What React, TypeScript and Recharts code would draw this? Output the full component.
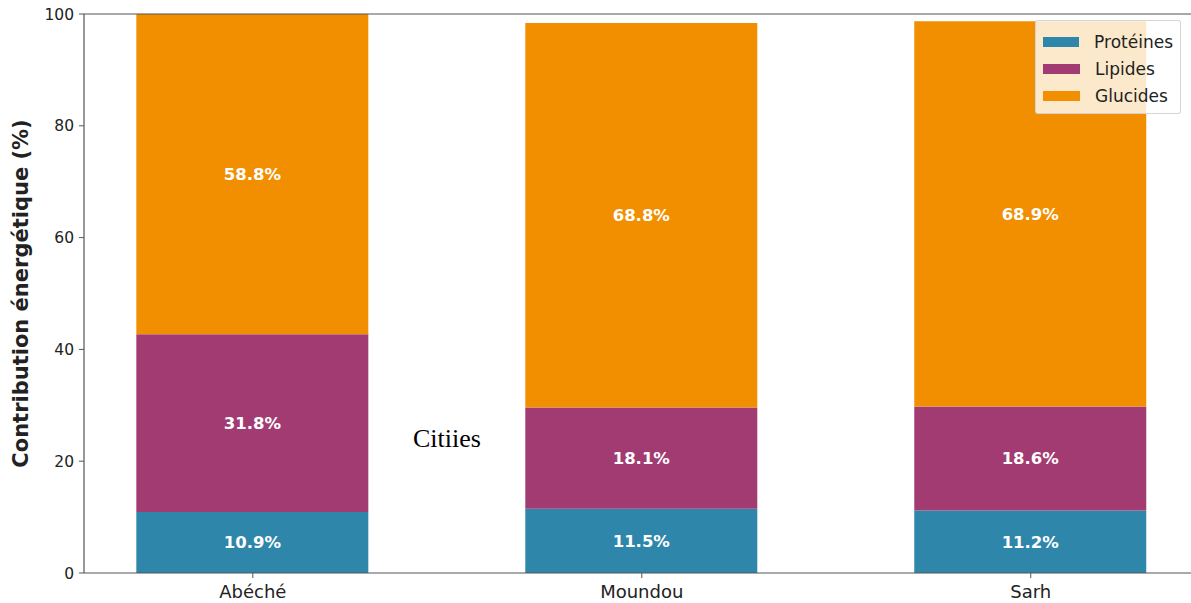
import React from 'react';
import { ComposedChart, Bar, XAxis, YAxis, ReferenceLine, LabelList } from 'recharts';

const cities = ['Abéché', 'Moundou', 'Sarh'];
const proteines = [10.9, 11.5, 11.2];
const lipides = [31.8, 18.1, 18.6];
const glucides = [58.8, 68.8, 68.9];
const yTicks = [0, 20, 40, 60, 80, 100];
const seriesNames = ['Protéines', 'Lipides', 'Glucides'];
const seriesColors = ['#2E86AB', '#A23B72', '#F18F01'];

const data = cities.map((c, i) => ({
  idx: i,
  city: c,
  proteines: proteines[i],
  lipides: lipides[i],
  glucides: glucides[i],
}));

const FONT = 'DejaVu Sans, Verdana, sans-serif';

const LegendBox = () => (
  <div
    style={{
      position: 'absolute',
      left: 1035,
      top: 20,
      width: 146,
      height: 94,
      background: 'rgba(255,255,255,0.8)',
      border: '1px solid rgba(210,210,210,0.9)',
      borderRadius: 3,
      padding: '7px 7px',
      fontFamily: FONT,
      fontSize: 17,
      color: '#222',
      boxSizing: 'border-box',
    }}
  >
    {seriesNames.map((n, i) => (
      <div key={n} style={{ display: 'flex', alignItems: 'center', height: 27 }}>
        <div style={{ width: 37, height: 10, background: seriesColors[i], marginRight: 15 }} />
        <span>{n}</span>
      </div>
    ))}
  </div>
);

const yLabel = (props: any) => {
  const vb = props.viewBox || {};
  const cy = (vb.y ?? 14) + (vb.height ?? 559) / 2;
  const x = 21;
  return (
    <text
      x={x}
      y={cy}
      transform={`rotate(-90, ${x}, ${cy})`}
      textAnchor="middle"
      dominantBaseline="central"
      fontFamily={FONT}
      fontWeight="bold"
      fontSize={21}
      fill="#222"
    >
      Contribution énergétique (%)
    </text>
  );
};

const labelFmt = (v: any) => `${Number(v).toFixed(1)}%`;
const labelStyle = { fill: '#ffffff', fontWeight: 'bold' as const, fontSize: 16.5, fontFamily: FONT };

export default function App() {
  return (
    <div
      style={{
        position: 'absolute',
        left: 0,
        top: 0,
        width: 1191,
        height: 603,
        overflow: 'hidden',
        background: '#fff',
      }}
    >
      <ComposedChart
        width={1215}
        height={603}
        data={data}
        margin={{ top: 14, right: 17, bottom: 0, left: 0 }}
      >
        <XAxis
          type="number"
          dataKey="idx"
          domain={[-0.434, 2.43]}
          ticks={[0, 1, 2]}
          tickFormatter={(v: number) => cities[v]}
          allowDataOverflow
          height={30}
          tickSize={5}
          tickMargin={7}
          axisLine={{ stroke: '#555', strokeWidth: 1.2 }}
          tickLine={{ stroke: '#555' }}
          tick={{ fontSize: 18, fontFamily: FONT, fill: '#222' }}
        />
        <YAxis
          type="number"
          domain={[0, 100]}
          ticks={yTicks}
          allowDataOverflow
          width={84}
          tickSize={5}
          tickMargin={5}
          axisLine={{ stroke: '#555', strokeWidth: 1.2 }}
          tickLine={{ stroke: '#555' }}
          tick={{ fontSize: 15.5, fontFamily: FONT, fill: '#222' }}
          label={{ content: yLabel }}
        />
        <ReferenceLine y={100} stroke="#555" strokeWidth={1.2} />
        <Bar dataKey="proteines" name={seriesNames[0]} stackId="a" fill={seriesColors[0]} barSize={232} isAnimationActive={false}>
          <LabelList dataKey="proteines" position="center" formatter={labelFmt} style={labelStyle} />
        </Bar>
        <Bar dataKey="lipides" name={seriesNames[1]} stackId="a" fill={seriesColors[1]} barSize={232} isAnimationActive={false}>
          <LabelList dataKey="lipides" position="center" formatter={labelFmt} style={labelStyle} />
        </Bar>
        <Bar dataKey="glucides" name={seriesNames[2]} stackId="a" fill={seriesColors[2]} barSize={232} isAnimationActive={false}>
          <LabelList dataKey="glucides" position="center" formatter={labelFmt} style={labelStyle} />
        </Bar>
      </ComposedChart>
      <LegendBox />
      <svg
        width={1191}
        height={603}
        style={{ position: 'absolute', left: 0, top: 0, pointerEvents: 'none' }}
      >
        <text x={413} y={447} fontFamily="Liberation Serif, Times New Roman, serif" fontSize={26} fill="#000">
          Citiies
        </text>
      </svg>
    </div>
  );
}
